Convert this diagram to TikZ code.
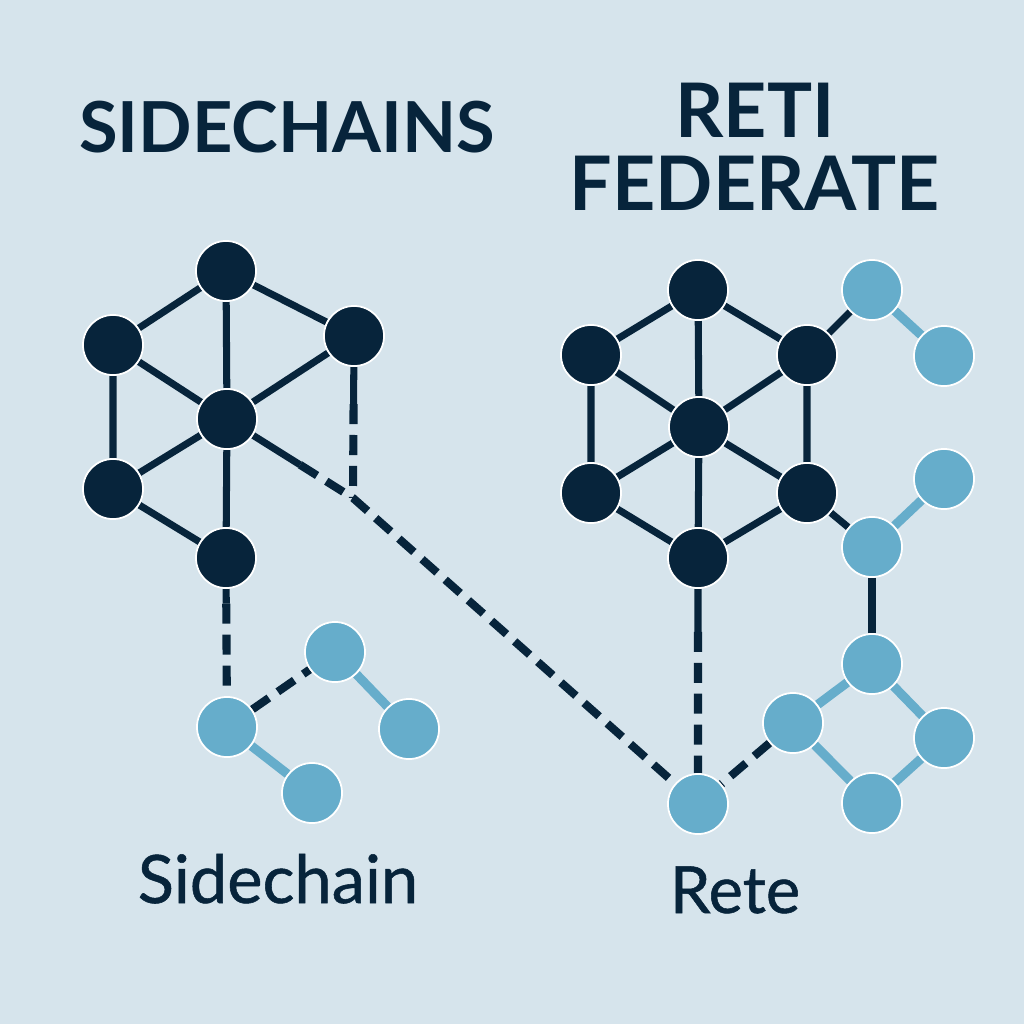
\documentclass[tikz,border=0pt]{standalone}
\usepackage{fontspec}
\setmainfont{Lato}
\newfontfamily\capfont[FakeBold=0.8]{Lato}
\usepackage{tikz}
\usetikzlibrary{
  positioning,
  calc,
  backgrounds
}
\definecolor{scBack}{HTML}{D6E4EC}
\definecolor{scDark}{HTML}{07243B}
\definecolor{scLight}{HTML}{66ADCB}
\tikzset{
  hub/.style={circle, fill=scDark, draw=white, line width=0.5pt, minimum size=6mm, inner sep=0pt},
  leaf/.style={circle, fill=scLight, draw=white, line width=0.5pt, minimum size=6mm, inner sep=0pt},
  edge/.style={line width=2pt, scDark},
  ledge/.style={line width=2.6pt, scLight},
  link/.style={line width=2.3pt, scDark, dash pattern=on 5.7pt off 3.1pt},
  headline/.style={font=\fontsize{20}{20.8}\selectfont\bfseries, text=scDark, inner sep=0pt, anchor=base, align=center},
  caption/.style={font=\capfont\fontsize{19}{20}\selectfont, text=scDark, inner sep=0pt, anchor=base}
}

\begin{document}
\begin{tikzpicture}[x=0.01cm, y=-0.01cm]
  \useasboundingbox (0,0) rectangle (1024,1024);

  % titles
  \node[headline] (tside) at (287,152) {SIDECHAINS};
  \node[headline, font=\fontsize{21.4}{20.6}\selectfont\bfseries] (tfed) at (755,210) {RETI\\FEDERATE};

  % left cluster
  \node[hub] (lt) at (226,271) {};
  \node[hub] (lul) at (113,345) {};
  \node[hub] (lur) at (354,336) {};
  \node[hub] (lc) at (227,419) {};
  \node[hub] (lll) at (113,489) {};
  \node[hub] (lb) at (226,558) {};
  \coordinate (bend) at (353,498);

  % sidechain
  \node[leaf] (s1) at (227,727) {};
  \node[leaf] (s2) at (335,652) {};
  \node[leaf] (s3) at (409,729) {};
  \node[leaf] (s4) at (312,793) {};
  \node[caption] (tsc) at (278,903) {Sidechain};

  % right cluster
  \node[hub] (rt) at (698,290) {};
  \node[hub] (rul) at (591,355) {};
  \node[hub] (rur) at (807,355) {};
  \node[hub] (rc) at (699,427) {};
  \node[hub] (rll) at (591,493) {};
  \node[hub] (rlr) at (807,493) {};
  \node[hub] (rb) at (698,558) {};

  % federated leaves
  \node[leaf] (r1) at (872,290) {};
  \node[leaf] (r2) at (944,356) {};
  \node[leaf] (r3) at (944,479) {};
  \node[leaf] (r4) at (872,547) {};
  \node[leaf] (r5) at (872,664) {};
  \node[leaf] (r6) at (793,723) {};
  \node[leaf] (r7) at (944,738) {};
  \node[leaf] (r8) at (872,803) {};
  \node[leaf] (rete) at (698,804) {};
  \node[caption, font=\capfont\fontsize{18.5}{20}\selectfont] (trete) at (735,913) {Rete};

  \begin{scope}[on background layer]
    \fill[scBack] (0,0) rectangle (1024,1024);
    % left hub edges
    \draw[edge] (lul) -- (lt) -- (lur);
    \draw[edge] (lt) -- (lc) -- (lb);
    \draw[edge] (lul) -- (lc) -- (lur);
    \draw[edge] (lul) -- (lll) -- (lc);
    \draw[edge] (lll) -- (lb);
    % right hub edges
    \draw[edge] (rul) -- (rt) -- (rur);
    \draw[edge] (rt) -- (rc) -- (rb);
    \draw[edge] (rul) -- (rc) -- (rur);
    \draw[edge] (rll) -- (rc) -- (rlr);
    \draw[edge] (rul) -- (rll) -- (rb) -- (rlr) -- (rur);
    \draw[edge] (rur) -- (r1);
    \draw[edge] (rlr) -- (r4);
    \draw[edge] (r4) -- (r5);
    % leaf edges
    \draw[ledge] (s1) -- (s4);
    \draw[ledge] (s2) -- (s3);
    \draw[ledge] (r1) -- (r2);
    \draw[ledge] (r4) -- (r3);
    \draw[ledge] (r6) -- (r5) -- (r7) -- (r8) -- (r6);
    % dashed links
    \draw[edge] (lc) -- ($(lc)!0.58!(bend)$);
    \draw[link] ($(lc)!0.58!(bend)$) -- (bend) -- (rete);
    \draw[edge] (lur) -- ($(lur)!0.42!(bend)$);
    \draw[link] ($(lur)!0.42!(bend)$) -- (bend);
    \draw[edge] (lb) -- ($(lb)!0.27!(s1)$);
    \draw[link] ($(lb)!0.27!(s1)$) -- (s1);
    \draw[link] (s1) -- (s2);
    \draw[edge] (rb) -- ($(rb)!0.3!(rete)$);
    \draw[link] ($(rb)!0.3!(rete)$) -- (rete);
    \draw[link] (r6) -- (rete);
  \end{scope}
\end{tikzpicture}
\end{document}
